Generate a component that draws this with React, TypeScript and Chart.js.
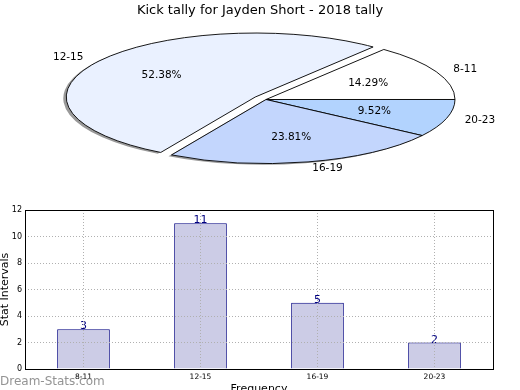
import React, { useEffect, useRef } from "react";
import { Chart, registerables } from "chart.js";

Chart.register(...registerables);
Chart.defaults.font.family = "'DejaVu Sans', sans-serif";
Chart.defaults.color = "#000";

// ---------------- data ----------------
const chartTitle = "Kick tally for Jayden Short - 2018 tally";
const categories = ["8-11", "12-15", "16-19", "20-23"];
const counts = [3, 11, 5, 2];
const sliceColors = ["#ffffff", "#eaf1ff", "#c3d6fd", "#b2d3fe"];
const explodeDist = [0, 13, 0, 0];
const yAxisTitle = "Stat Intervals";
const xAxisTitle = "Frequency";
const watermark = "Dream-Stats.com";
const yMin = 0;
const yMax = 12;
const yStep = 2;

const total = counts.reduce((a, b) => a + b, 0);
const percentLabels = counts.map((v) => ((v * 100) / total).toFixed(2) + "%");

// ---------------- pie geometry (style) ----------------
const PIE_CX = 266;
const PIE_CY = 99.5;
const PIE_RX = 189;
const PIE_RY = 64;
const K = PIE_RY / PIE_RX;
const SH_DX = -3;
const SH_DY = 1.3;

const rev = <T,>(a: T[]): T[] => a.slice().reverse();

const ellipsePie = {
  id: "ellipsePie",
  afterDatasetUpdate(chart: any, args: any) {
    const arcs = args.meta.data;
    if (!arcs.length) return;
    chart.$pieCenter = { x: arcs[0].x, y: arcs[0].y };
    const ex = rev(explodeDist);
    arcs.forEach((a: any, i: number) => {
      const d = ex[i];
      if (!d) return;
      const mid = (a.startAngle + a.endAngle) / 2;
      a.x += Math.cos(mid) * d;
      a.y += Math.sin(mid) * d;
    });
  },
  beforeDatasetsDraw(chart: any) {
    const ctx = chart.ctx;
    const c = chart.$pieCenter;
    if (!c) return;
    ctx.save();
    const base = ctx.getTransform();
    ctx.translate(PIE_CX, PIE_CY);
    ctx.scale(1, K);
    ctx.translate(-c.x, -c.y);
    const arcs = chart.getDatasetMeta(0).data;
    ctx.fillStyle = "rgba(0,0,0,0.4)";
    arcs.forEach((a: any) => {
      const sx = a.x + SH_DX;
      const sy = a.y + SH_DY / K;
      ctx.beginPath();
      ctx.moveTo(sx, sy);
      ctx.arc(sx, sy, a.outerRadius, a.startAngle, a.endAngle);
      ctx.closePath();
      ctx.fill();
    });
    const orig = ctx.stroke;
    ctx.stroke = function (...args: any[]) {
      this.save();
      this.setTransform(base);
      orig.apply(this, args);
      this.restore();
    };
  },
  afterDatasetsDraw(chart: any) {
    const ctx = chart.ctx;
    if (!chart.$pieCenter) return;
    delete ctx.stroke;
    ctx.restore();
  },
  afterDraw(chart: any) {
    const ctx = chart.ctx;
    const c = chart.$pieCenter;
    if (!c) return;
    const arcs = chart.getDatasetMeta(0).data;
    const n = categories.length;
    ctx.save();
    ctx.font = "10.5px 'DejaVu Sans'";
    ctx.fillStyle = "#000";
    ctx.textBaseline = "middle";
    arcs.forEach((a: any, j: number) => {
      const i = n - 1 - j;
      const mid = (a.startAngle + a.endAngle) / 2;
      const toScreen = (f: number) => ({
        x: PIE_CX + (a.x - c.x) + Math.cos(mid) * a.outerRadius * f,
        y: PIE_CY + K * (a.y - c.y + Math.sin(mid) * a.outerRadius * f),
      });
      const lp = toScreen(1.1);
      ctx.textAlign = Math.cos(mid) > 0 ? "left" : "right";
      ctx.fillText(categories[i], lp.x, lp.y);
      const pp = toScreen(0.6);
      ctx.textAlign = "center";
      ctx.fillText(percentLabels[i], pp.x, pp.y);
    });
    ctx.restore();
  },
};

const barExtras = {
  id: "barExtras",
  afterDatasetsDraw(chart: any) {
    const ctx = chart.ctx;
    const ca = chart.chartArea;
    const bars = chart.getDatasetMeta(0).data;
    ctx.save();
    ctx.font = "11px 'DejaVu Sans'";
    ctx.fillStyle = "#000080";
    ctx.textAlign = "center";
    ctx.textBaseline = "alphabetic";
    bars.forEach((b: any, i: number) => {
      ctx.fillText(String(counts[i]), b.x, b.y);
    });
    ctx.restore();
  },
  afterDraw(chart: any) {
    const ctx = chart.ctx;
    const ca = chart.chartArea;
    ctx.save();
    ctx.strokeStyle = "#000";
    ctx.lineWidth = 1;
    ctx.strokeRect(Math.round(ca.left) + 0.5, Math.round(ca.top) + 0.5, Math.round(ca.right - ca.left), Math.round(ca.bottom - ca.top));
    ctx.font = "12px 'DejaVu Sans'";
    ctx.fillStyle = "rgba(120,120,120,0.8)";
    ctx.textAlign = "left";
    ctx.textBaseline = "alphabetic";
    ctx.fillText(watermark, 0, 385);
    ctx.restore();
  },
};

export default function App() {
  const pieRef = useRef<HTMLCanvasElement>(null);
  const barRef = useRef<HTMLCanvasElement>(null);

  useEffect(() => {
    const pie = new Chart(pieRef.current as HTMLCanvasElement, {
      type: "pie",
      data: {
        labels: rev(categories),
        datasets: [
          {
            data: rev(counts),
            backgroundColor: rev(sliceColors),
            borderColor: "#000",
            borderWidth: 0.9,
            radius: PIE_RX,
            rotation: 90,
            clip: false,
          } as any,
        ],
      },
      options: {
        responsive: false,
        animation: false,
        events: [],
        rotation: 90,
        plugins: {
          legend: { display: false },
          tooltip: { enabled: false },
          title: {
            display: true,
            text: chartTitle,
            color: "#000",
            font: { family: "'DejaVu Sans'", size: 13, weight: "normal" },
            padding: { top: 3, bottom: 0 },
          },
        },
      } as any,
      plugins: [ellipsePie],
    });

    const bar = new Chart(barRef.current as HTMLCanvasElement, {
      type: "bar",
      data: {
        labels: categories,
        datasets: [
          {
            data: counts,
            backgroundColor: "#ccccE6",
            borderColor: "#000080",
            borderWidth: 1,
            barPercentage: 0.45,
            categoryPercentage: 1,
          },
        ],
      },
      options: {
        responsive: false,
        animation: false,
        events: [],
        layout: { padding: { top: 210, right: 27, left: 0, bottom: 0 } },
        plugins: { legend: { display: false }, tooltip: { enabled: false } },
        scales: {
          x: {
            offset: true,
            grid: { offset: false, color: "#b0b0b0", lineWidth: 1, drawTicks: false, z: 1 },
            border: { display: false, dash: [1, 2] },
            ticks: { font: { size: 7.5 }, color: "#000", padding: 3.5 },
            title: {
              display: true,
              text: xAxisTitle,
              font: { size: 11 },
              color: "#000",
              padding: { top: 0, bottom: -6 },
            },
            afterFit: (s: any) => {
              s.height = 21;
            },
          },
          y: {
            min: yMin,
            max: yMax,
            grid: { color: "#b0b0b0", lineWidth: 1, drawTicks: false, z: 1 },
            border: { display: false, dash: [1, 2] },
            ticks: { stepSize: yStep, font: { size: 8 }, color: "#000", padding: 3 },
            title: {
              display: true,
              text: yAxisTitle,
              font: { size: 11 },
              color: "#000",
              padding: { top: -1.5, bottom: 0 },
            },
            afterFit: (s: any) => {
              s.width = 25;
            },
          },
        },
      } as any,
      plugins: [barExtras],
    });

    return () => {
      pie.destroy();
      bar.destroy();
    };
  }, []);

  const cstyle: React.CSSProperties = { position: "absolute", left: 0, top: 0, width: 520, height: 390 };
  return (
    <div style={{ position: "absolute", left: 0, top: 0, width: 520, height: 390, background: "#fff" }}>
      <canvas ref={pieRef} width={520} height={390} style={cstyle} />
      <canvas ref={barRef} width={520} height={390} style={cstyle} />
    </div>
  );
}
